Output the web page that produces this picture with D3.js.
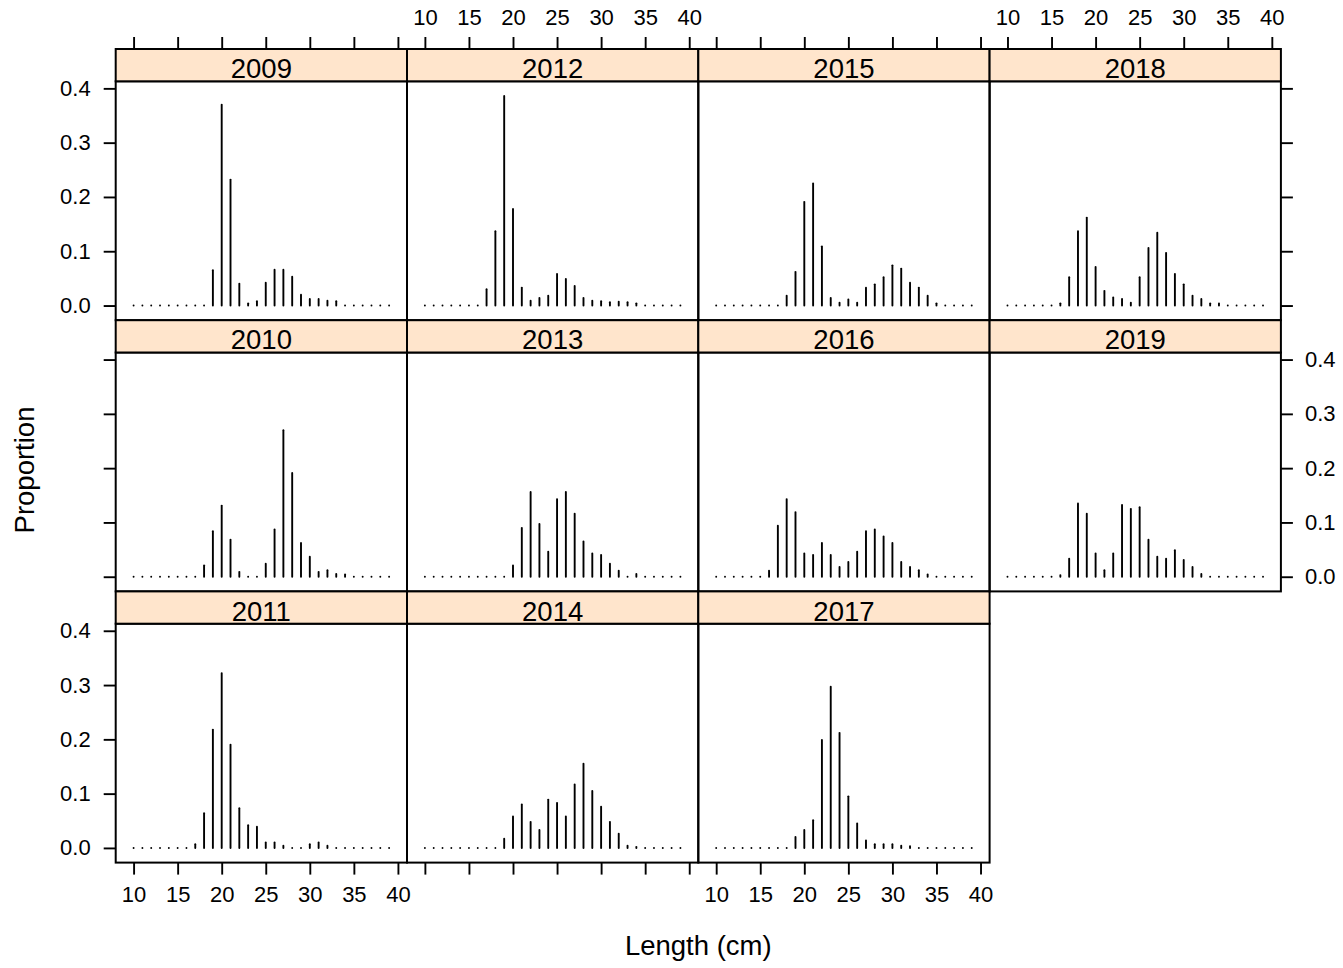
<!DOCTYPE html>
<html>
<head>
<meta charset="utf-8">
<script src="https://cdn.jsdelivr.net/npm/d3@7"></script>
<style>
  html, body { margin: 0; padding: 0; background: #ffffff; }
  svg { display: block; font-family: "Liberation Sans", Arial, Helvetica, sans-serif; }
</style>
</head>
<body>
<svg id="chart" width="1343" height="968"></svg>
<script>
// Length classes (cm)
const lengths = [10,11,12,13,14,15,16,17,18,19,20,21,22,23,24,25,26,27,28,29,30,31,32,33,34,35,36,37,38,39];

// Proportion at length, one array per survey year
const y2009 = [0,0,0,0,0,0,0,0,0, 0.065,0.370,0.232,0.040,0.004,0.008,0.042,0.066,0.066,0.053,0.020,0.012,0.012,0.009,0.008, 0,0,0,0,0,0];
const y2010 = [0,0,0,0,0,0,0,0, 0.021,0.084,0.131,0.068,0.009,0,0,0.024,0.087,0.270,0.191,0.062,0.037,0.009,0.012,0.005,0.004, 0,0,0,0,0];
const y2011 = [0,0,0,0,0,0,0, 0.007,0.064,0.218,0.322,0.190,0.073,0.042,0.039,0.010,0.010,0.004,0,0,0.007,0.010,0.004, 0,0,0,0,0,0,0];
const y2012 = [0,0,0,0,0,0,0, 0.030,0.137,0.386,0.178,0.033,0.009,0.014,0.018,0.058,0.049,0.036,0.014,0.009,0.008,0.006,0.007,0.006,0.004, 0,0,0,0,0];
const y2013 = [0,0,0,0,0,0,0,0,0,0, 0.021,0.090,0.156,0.097,0.046,0.143,0.156,0.116,0.065,0.043,0.040,0.024,0.011,0,0.005, 0,0,0,0,0];
const y2014 = [0,0,0,0,0,0,0,0,0, 0.017,0.058,0.080,0.048,0.033,0.089,0.083,0.058,0.117,0.155,0.105,0.076,0.048,0.026,0.004,0.002, 0,0,0,0,0];
const y2015 = [0,0,0,0,0,0,0,0, 0.018,0.062,0.191,0.225,0.109,0.014,0.005,0.011,0.005,0.033,0.039,0.052,0.074,0.068,0.042,0.033,0.018,0.004, 0,0,0,0];
const y2016 = [0,0,0,0,0,0, 0.011,0.094,0.143,0.119,0.043,0.040,0.062,0.040,0.018,0.027,0.046,0.084,0.087,0.074,0.062,0.027,0.018,0.012,0.004, 0,0,0,0,0];
const y2017 = [0,0,0,0,0,0,0,0,0, 0.020,0.033,0.051,0.199,0.297,0.212,0.095,0.045,0.014,0.007,0.007,0.007,0.004,0.003, 0,0,0,0,0,0,0];
const y2018 = [0,0,0,0,0,0, 0.004,0.052,0.137,0.162,0.071,0.027,0.015,0.012,0.005,0.052,0.106,0.134,0.097,0.058,0.039,0.018,0.012,0.004,0.004, 0,0,0,0,0];
const y2019 = [0,0,0,0,0,0, 0.003,0.033,0.135,0.116,0.043,0.012,0.043,0.132,0.125,0.128,0.068,0.037,0.033,0.049,0.031,0.018,0.005, 0,0,0,0,0,0,0];

// Panel order (filled column by column) and tick values
const years = ["2009","2010","2011","2012","2013","2014","2015","2016","2017","2018","2019"];
const series = [y2009,y2010,y2011,y2012,y2013,y2014,y2015,y2016,y2017,y2018,y2019];
const xTicks = [10,15,20,25,30,35,40];
const yTicks = [0.0,0.1,0.2,0.3,0.4];

// ---- layout ----
const nCols = 4, nRows = 3;
const gridLeft = 115.7, panelW = 291.3;
const gridTop = 49, rowH = 271.2, stripH = 32.3;
const panelH = rowH - stripH;
const tickLen = 12;
const axisFont = 22, stripFont = 27.5, titleFont = 27.5;
const lineW = 1.9, frameW = 2;

const svg = d3.select("#chart");
svg.append("rect").attr("width", 1343).attr("height", 968).attr("fill", "#ffffff");

// shared scales with 7% padding around the data range
const xMin = d3.min(lengths), xMax = d3.max(lengths);
const xPad = (xMax - xMin) * 0.07;
const yMax = d3.max(series, s => d3.max(s));
const yPad = yMax * 0.07;

const x = d3.scaleLinear().domain([xMin - xPad, xMax + xPad]).range([0, panelW]);
const y = d3.scaleLinear().domain([-yPad, yMax + yPad]).range([panelH, 0]);

const fmtY = d3.format(".1f");

// which cells hold a panel
const cellOf = years.map((yr, i) => ({ col: Math.floor(i / nRows), row: i % nRows }));
const lastPanel = years.length - 1;

function styleAxis(g) {
  g.select(".domain").remove();
  g.selectAll(".tick line").attr("stroke", "#000").attr("stroke-width", lineW);
  g.selectAll(".tick text").attr("fill", "#000").attr("font-size", axisFont)
    .attr("font-family", "\"Liberation Sans\", Arial, Helvetica, sans-serif");
}

years.forEach((yr, i) => {
  const { col, row } = cellOf[i];
  const left = gridLeft + col * panelW;
  const top = gridTop + row * rowH;
  const pTop = top + stripH;

  const g = svg.append("g").attr("transform", `translate(${left},${pTop})`);

  // stems
  g.append("g").selectAll("line")
    .data(lengths.map((L, k) => ({ L, v: series[i][k] })))
    .join("line")
    .attr("x1", d => x(d.L)).attr("x2", d => x(d.L))
    .attr("y1", y(0)).attr("y2", d => y(d.v))
    .attr("stroke", "#000").attr("stroke-width", lineW).attr("stroke-linecap", "round");

  // panel frame
  g.append("rect").attr("x", 0).attr("y", 0).attr("width", panelW).attr("height", panelH)
    .attr("fill", "none").attr("stroke", "#000").attr("stroke-width", frameW);

  // strip
  const s = svg.append("g").attr("transform", `translate(${left},${top})`);
  s.append("rect").attr("width", panelW).attr("height", stripH)
    .attr("fill", "#ffe5cc").attr("stroke", "#000").attr("stroke-width", frameW);
  s.append("text").attr("x", panelW / 2).attr("y", stripH - 3)
    .attr("text-anchor", "middle").attr("font-size", stripFont).attr("fill", "#000").text(yr);

  // left axis on the first column (labels on alternate rows)
  if (col === 0) {
    const ax = d3.axisLeft(y).tickValues(yTicks).tickSize(tickLen).tickPadding(13)
      .tickFormat(row % 2 === 0 ? fmtY : "");
    styleAxis(g.append("g").call(ax));
  }
  // right axis on the last column and on the final panel
  if (col === nCols - 1 || i === lastPanel) {
    const ax = d3.axisRight(y).tickValues(yTicks).tickSize(tickLen).tickPadding(12)
      .tickFormat(row % 2 === 1 ? fmtY : "");
    styleAxis(g.append("g").attr("transform", `translate(${panelW},0)`).call(ax));
  }
  // top axis on the first row, above the strip (labels on alternate columns)
  if (row === 0) {
    const ax = d3.axisTop(x).tickValues(xTicks).tickSize(tickLen).tickPadding(12)
      .tickFormat(col % 2 === 1 ? d3.format("d") : "");
    styleAxis(svg.append("g").attr("transform", `translate(${left},${top})`).call(ax));
  }
  // bottom axis on the last row
  if (row === nRows - 1) {
    const ax = d3.axisBottom(x).tickValues(xTicks).tickSize(tickLen).tickPadding(12)
      .tickFormat(col % 2 === 0 ? d3.format("d") : "");
    styleAxis(g.append("g").attr("transform", `translate(0,${panelH})`).call(ax));
  }
});

// axis titles
svg.append("text").attr("x", gridLeft + nCols * panelW / 2).attr("y", 955)
  .attr("text-anchor", "middle").attr("font-size", titleFont).attr("fill", "#000")
  .text("Length (cm)");
svg.append("text").attr("transform", "translate(34,470) rotate(-90)")
  .attr("text-anchor", "middle").attr("font-size", titleFont).attr("fill", "#000")
  .text("Proportion");
</script>
</body>
</html>
